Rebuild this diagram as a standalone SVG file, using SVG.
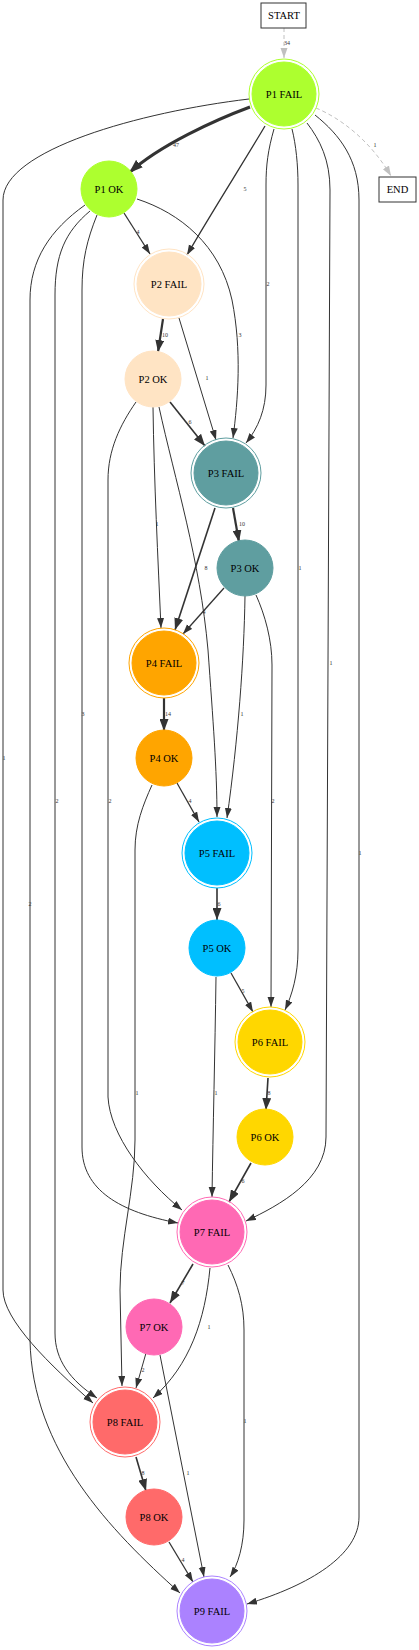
<svg xmlns="http://www.w3.org/2000/svg" width="419" height="1650" viewBox="0 0 419 1650">
<defs>
<marker id="a" markerUnits="userSpaceOnUse" markerWidth="10" markerHeight="8" refX="10" refY="3.5" orient="auto"><path d="M0,0 L10,3.5 L0,7 z" fill="#333"/></marker>
<marker id="b" markerUnits="userSpaceOnUse" markerWidth="12" markerHeight="9" refX="12" refY="4.5" orient="auto"><path d="M0,0 L12,4.5 L0,9 z" fill="#333"/></marker>
<marker id="c" markerUnits="userSpaceOnUse" markerWidth="14" markerHeight="10" refX="14" refY="5" orient="auto"><path d="M0,0 L14,5 L0,10 z" fill="#333"/></marker>
<marker id="g" markerUnits="userSpaceOnUse" markerWidth="10" markerHeight="8" refX="10" refY="3.5" orient="auto"><path d="M0,0 L10,3.5 L0,7 z" fill="#c0c0c0"/></marker>
</defs>
<style>
.e{fill:none;stroke:#333;stroke-width:1;marker-end:url(#a)}
.w2{stroke-width:1.3}
.w3{stroke-width:1.6;marker-end:url(#b)}
.w4{stroke-width:2.2;marker-end:url(#b)}
.w5{stroke-width:3;marker-end:url(#c)}
.d{stroke:#c0c0c0;stroke-dasharray:4,3;marker-end:url(#g)}
.lbl{font-family:"Liberation Serif",serif;font-size:6px;fill:#333;text-anchor:middle}
.nt{font-family:"Liberation Serif",serif;font-size:10.5px;fill:#000;text-anchor:middle}
.box{fill:#fff;stroke:#333;stroke-width:1}
.ring{fill:none;stroke-width:1}
</style>
<rect width="419" height="1650" fill="#fff"/>
<g id="edges">
<path class="e d" d="M284,28 L284,58"/><text class="lbl" x="287" y="45">34</text>
<path class="e d" d="M316,108 C340,118 370,140 391,176"/><text class="lbl" x="375" y="147">1</text>
<path class="e w5" d="M250,107 C215,120 160,145 129,173"/><text class="lbl" x="176" y="147">47</text>
<path class="e w2" d="M265,126 C245,160 210,215 187,255"/><text class="lbl" x="245" y="191">5</text>
<path class="e w2" d="M124,213 L150,254"/><text class="lbl" x="138" y="234">4</text>
<path class="e" d="M137,199 C180,213 220,245 232,300 C242,350 238,400 233,438"/><text class="lbl" x="240" y="337">3</text>
<path class="e" d="M274,129 C268,150 266,165 266,185 L266,385 C266,410 258,428 246,443"/><text class="lbl" x="268" y="286">2</text>
<path class="e" d="M292,129 C296,145 298,165 298,185 L298,950 C298,975 292,995 285,1010"/><text class="lbl" x="300" y="570">1</text>
<path class="e" d="M307,123 C320,140 330,160 330,190 L326,1137 C326,1180 280,1205 246,1221"/><text class="lbl" x="331" y="665">1</text>
<path class="e" d="M315,115 C340,135 359,160 359,200 L359,1517 C359,1555 310,1585 247,1604"/><text class="lbl" x="360" y="855">1</text>
<path class="e" d="M249,99 C140,112 3,150 3,200 L3,1290 C3,1320 50,1365 93,1403"/><text class="lbl" x="4" y="760">1</text>
<path class="e" d="M85,205 C50,230 30,260 30,300 L30,1340 C32,1450 110,1530 180,1593"/><text class="lbl" x="30" y="906">2</text>
<path class="e" d="M90,211 C65,232 55,255 55,295 L55,1333 C55,1360 70,1380 97,1398"/><text class="lbl" x="57" y="803">2</text>
<path class="e" d="M97,215 C87,240 82,260 82,290 L82,1147 C82,1190 120,1212 178,1223"/><text class="lbl" x="83" y="716">3</text>
<path class="e w4" d="M163,319 L158,352"/><text class="lbl" x="165" y="337">10</text>
<path class="e" d="M179,318 L216,440"/><text class="lbl" x="207" y="380">1</text>
<path class="e w3" d="M170,402 L205,446"/><text class="lbl" x="190" y="424">6</text>
<path class="e" d="M153,407 C154,480 158,560 161,628"/><text class="lbl" x="157" y="526">1</text>
<path class="e" d="M159,407 C175,480 200,560 208,650 C213,720 217,770 217,817"/>
<path class="e" d="M136,402 C120,425 108,450 108,480 L108,1097 C110,1135 145,1180 182,1210"/><text class="lbl" x="110" y="803">2</text>
<path class="e w4" d="M233,508 L239,542"/><text class="lbl" x="242" y="526">10</text>
<path class="e w3" d="M215,508 L175,630"/><text class="lbl" x="206" y="570">8</text>
<path class="e w2" d="M224,588 L183,634"/><text class="lbl" x="204" y="614">4</text>
<path class="e" d="M245,596 C244,660 238,740 227,818"/><text class="lbl" x="242" y="716">1</text>
<path class="e" d="M256,595 C265,615 272,640 272,665 L271,1007"/><text class="lbl" x="273" y="803">2</text>
<path class="e w4" d="M164,698 L164,731"/><text class="lbl" x="168" y="716">14</text>
<path class="e w2" d="M177,783 L199,822"/><text class="lbl" x="190" y="803">4</text>
<path class="e" d="M152,785 C143,805 135,825 135,850 L135,1140 C135,1190 120,1240 120,1290 L122,1386"/><text class="lbl" x="137" y="1095">1</text>
<path class="e w3" d="M217,888 L217,920"/><text class="lbl" x="219" y="906">6</text>
<path class="e w2" d="M231,973 L253,1012"/><text class="lbl" x="243" y="993">5</text>
<path class="e" d="M216,977 C215,1050 213,1130 212,1197"/><text class="lbl" x="216" y="1095">1</text>
<path class="e w3" d="M268,1078 L266,1110"/><text class="lbl" x="269" y="1095">8</text>
<path class="e w3" d="M251,1163 L229,1202"/><text class="lbl" x="243" y="1183">6</text>
<path class="e w3" d="M193,1264 L170,1303"/><text class="lbl" x="183" y="1285">7</text>
<path class="e" d="M210,1268 C205,1320 190,1365 153,1398"/><text class="lbl" x="209" y="1329">1</text>
<path class="e" d="M228,1265 C238,1285 244,1305 244,1330 L244,1520 C244,1545 238,1565 230,1577"/><text class="lbl" x="245" y="1423">1</text>
<path class="e" d="M146,1353 L136,1388"/><text class="lbl" x="143" y="1372">2</text>
<path class="e" d="M160,1355 L204,1577"/><text class="lbl" x="188" y="1475">1</text>
<path class="e w3" d="M136,1457 L146,1491"/><text class="lbl" x="143" y="1475">8</text>
<path class="e w2" d="M169,1542 L193,1582"/><text class="lbl" x="183" y="1562">4</text>
</g>
<g id="n_start"><rect class="box" x="261" y="3" width="45" height="25"/><text class="nt" x="284" y="19">START</text></g>
<g id="n_end"><rect class="box" x="379" y="177" width="37" height="25"/><text class="nt" x="397.5" y="193">END</text></g>
<g id="n_p1fail"><circle class="ring" cx="284" cy="94" r="35" stroke="#ADFF2F"/><circle cx="284" cy="94" r="32" fill="#ADFF2F" stroke="#ADFF2F"/><text class="nt" x="284" y="97.5">P1 FAIL</text></g>
<g id="n_p1ok"><circle cx="109" cy="189" r="28" fill="#ADFF2F" stroke="#ADFF2F"/><text class="nt" x="109" y="192.5">P1 OK</text></g>
<g id="n_p2fail"><circle class="ring" cx="169" cy="284" r="35" stroke="#FFE4C4"/><circle cx="169" cy="284" r="32" fill="#FFE4C4" stroke="#FFE4C4"/><text class="nt" x="169" y="287.5">P2 FAIL</text></g>
<g id="n_p2ok"><circle cx="153" cy="379" r="28" fill="#FFE4C4" stroke="#FFE4C4"/><text class="nt" x="153" y="382.5">P2 OK</text></g>
<g id="n_p3fail"><circle class="ring" cx="226" cy="473" r="35" stroke="#5F9EA0"/><circle cx="226" cy="473" r="32" fill="#5F9EA0" stroke="#5F9EA0"/><text class="nt" x="226" y="476.5">P3 FAIL</text></g>
<g id="n_p3ok"><circle cx="245" cy="568" r="28" fill="#5F9EA0" stroke="#5F9EA0"/><text class="nt" x="245" y="571.5">P3 OK</text></g>
<g id="n_p4fail"><circle class="ring" cx="164" cy="663" r="35" stroke="#FFA500"/><circle cx="164" cy="663" r="32" fill="#FFA500" stroke="#FFA500"/><text class="nt" x="164" y="666.5">P4 FAIL</text></g>
<g id="n_p4ok"><circle cx="164" cy="758" r="28" fill="#FFA500" stroke="#FFA500"/><text class="nt" x="164" y="761.5">P4 OK</text></g>
<g id="n_p5fail"><circle class="ring" cx="217" cy="853" r="35" stroke="#00BFFF"/><circle cx="217" cy="853" r="32" fill="#00BFFF" stroke="#00BFFF"/><text class="nt" x="217" y="856.5">P5 FAIL</text></g>
<g id="n_p5ok"><circle cx="217" cy="948" r="28" fill="#00BFFF" stroke="#00BFFF"/><text class="nt" x="217" y="951.5">P5 OK</text></g>
<g id="n_p6fail"><circle class="ring" cx="270" cy="1042" r="35" stroke="#FFD700"/><circle cx="270" cy="1042" r="32" fill="#FFD700" stroke="#FFD700"/><text class="nt" x="270" y="1045.5">P6 FAIL</text></g>
<g id="n_p6ok"><circle cx="265" cy="1137" r="28" fill="#FFD700" stroke="#FFD700"/><text class="nt" x="265" y="1140.5">P6 OK</text></g>
<g id="n_p7fail"><circle class="ring" cx="212" cy="1232" r="35" stroke="#FF69B4"/><circle cx="212" cy="1232" r="32" fill="#FF69B4" stroke="#FF69B4"/><text class="nt" x="212" y="1235.5">P7 FAIL</text></g>
<g id="n_p7ok"><circle cx="154" cy="1327" r="28" fill="#FF69B4" stroke="#FF69B4"/><text class="nt" x="154" y="1330.5">P7 OK</text></g>
<g id="n_p8fail"><circle class="ring" cx="125" cy="1422" r="35" stroke="#FF6A6A"/><circle cx="125" cy="1422" r="32" fill="#FF6A6A" stroke="#FF6A6A"/><text class="nt" x="125" y="1425.5">P8 FAIL</text></g>
<g id="n_p8ok"><circle cx="154" cy="1517" r="28" fill="#FF6A6A" stroke="#FF6A6A"/><text class="nt" x="154" y="1520.5">P8 OK</text></g>
<g id="n_p9fail"><circle class="ring" cx="212" cy="1611" r="35" stroke="#AB82FF"/><circle cx="212" cy="1611" r="32" fill="#AB82FF" stroke="#AB82FF"/><text class="nt" x="212" y="1614.5">P9 FAIL</text></g>
</svg>
